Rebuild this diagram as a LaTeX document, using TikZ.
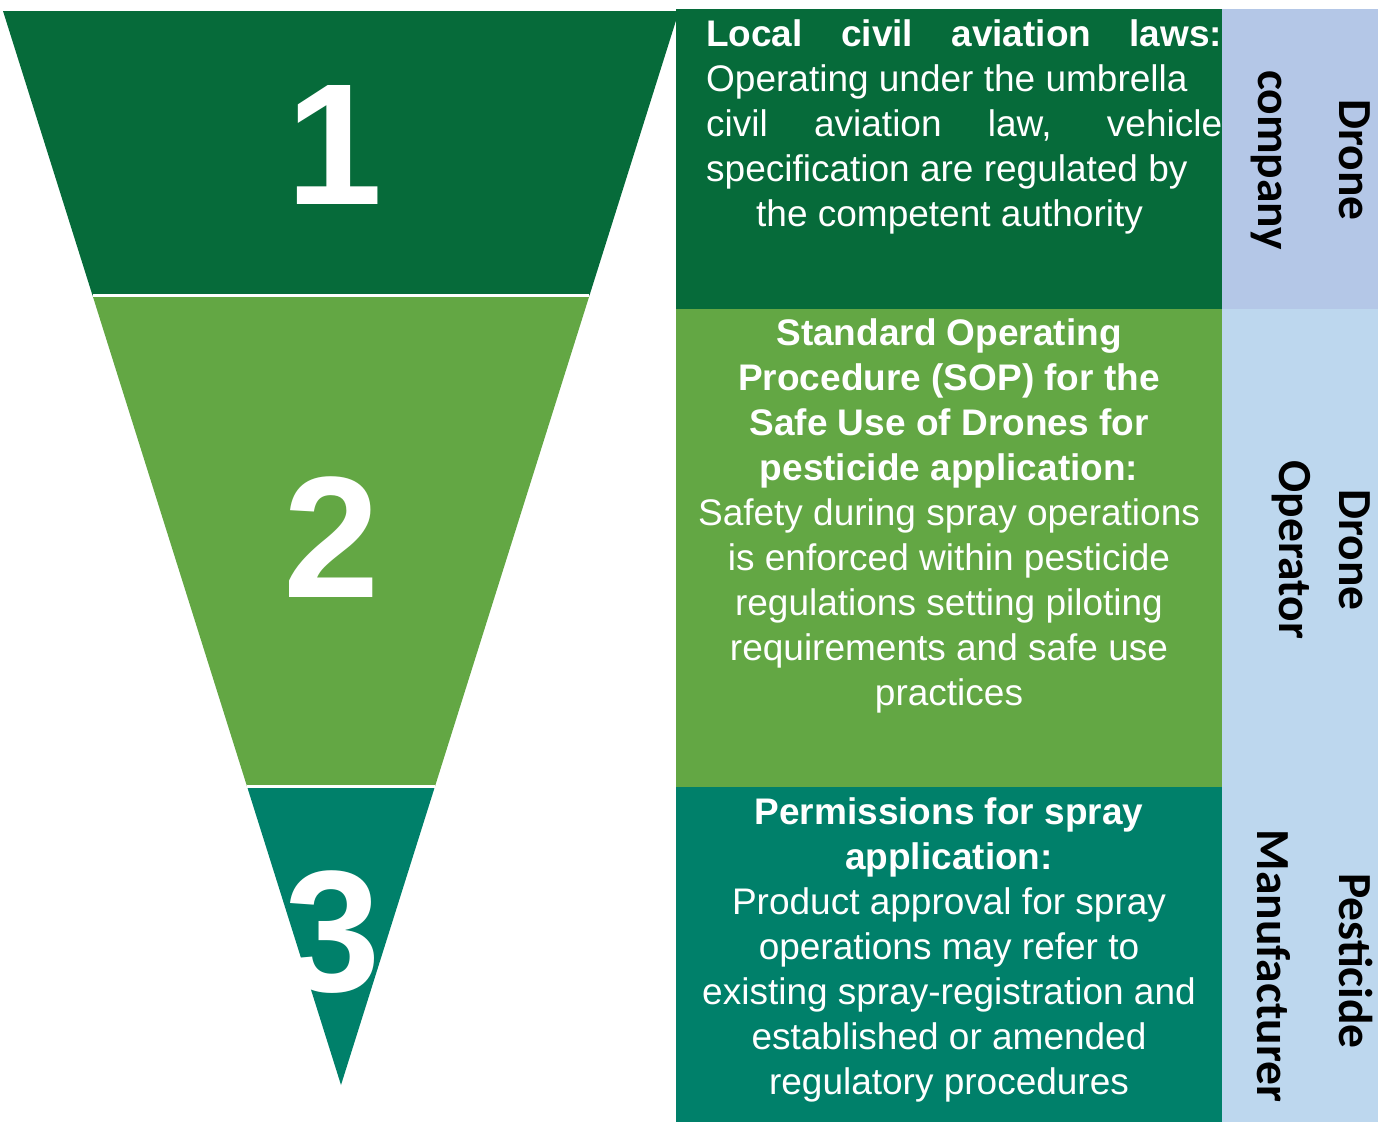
\documentclass[tikz,border=0pt]{standalone}
\usepackage{fontspec}
\setmainfont{Liberation Sans}
\newfontfamily\labelfont{Carlito}
\usetikzlibrary{calc}
\definecolor{tierone}{HTML}{066B3A}
\definecolor{tiertwo}{HTML}{63A744}
\definecolor{tierthree}{HTML}{00806A}
\definecolor{roleone}{HTML}{B4C7E7}
\definecolor{roletwo}{HTML}{BDD7EE}
\tikzset{
  bignum/.style={text=white, inner sep=0pt, font=\fontsize{173}{173}\selectfont\bfseries},
  bodytext/.style={text=white, inner sep=0pt, align=center, font=\fontsize{37}{45.1}\selectfont},
  roletext/.style={text=black, inner sep=0pt, anchor=base, rotate=-90, font=\fontsize{47.5}{58}\selectfont\labelfont\bfseries},
  separator/.style={white, line width=3pt}
}
\begin{document}
\begin{tikzpicture}[x=1pt,y=-1pt]
\useasboundingbox (0,0) rectangle (1386,1122);

% funnel outline
\coordinate (tl) at (3,11);
\coordinate (tr) at (679,11);
\coordinate (tip) at (341,1085);
\coordinate (l1) at ($(tl)!0.2649!(tip)$);
\coordinate (r1) at ($(tr)!0.2649!(tip)$);
\coordinate (l2) at ($(tl)!0.7221!(tip)$);
\coordinate (r2) at ($(tr)!0.7221!(tip)$);

\fill[tierone] (tl) -- (tr) -- (r1) -- (l1) -- cycle;
\fill[tiertwo] (l1) -- (r1) -- (r2) -- (l2) -- cycle;
\fill[tierthree] (l2) -- (r2) -- (tip) -- cycle;
\draw[separator] (l1) -- (r1);
\draw[separator] (l2) -- (r2);

\node[bignum] (n1) at (335,145) {1};
\node[bignum] (n2) at (332,537) {2};
\node[bignum] (n3) at (333,932) {3};

% description panels
\fill[tierone] (676,9) rectangle (1222,309);
\fill[tiertwo] (676,309) rectangle (1222,787);
\fill[tierthree] (676,787) rectangle (1222,1122);

% role column
\fill[roleone] (1222,9) rectangle (1378,309);
\fill[roletwo] (1222,309) rectangle (1378,1122);

\node[bodytext, align=left, anchor=north west] (d1) at (706,19) {%
\makebox[516pt][s]{\bfseries Local civil aviation laws:}\\
Operating under the umbrella\\
\makebox[516pt][s]{civil aviation law, vehicle}\\
specification are regulated by\\
\hspace*{50pt}the competent authority};

\node[bodytext, anchor=north] (d2) at (949,318) {%
\textbf{Standard Operating}\\
\textbf{Procedure (SOP) for the}\\
\textbf{Safe Use of Drones for}\\
\textbf{pesticide application:}\\
Safety during spray operations\\
is enforced within pesticide\\
regulations setting piloting\\
requirements and safe use\\
practices};

\node[bodytext, anchor=north] (d3) at (949,797) {%
\textbf{Permissions for spray}\\
\textbf{application:}\\
Product approval for spray\\
operations may refer to\\
existing spray-registration and\\
established or amended\\
regulatory procedures};

% role names, one node per line, placed on their baselines
\node[roletext] (r1a) at (1339,160) {Drone};
\node[roletext] (r1b) at (1258,160) {company};
\node[roletext] (r2a) at (1339,550) {Drone};
\node[roletext] (r2b) at (1279,550) {Operator};
\node[roletext] (r3a) at (1339,961) {Pesticide};
\node[roletext] (r3b) at (1257,966) {Manufacturer};
\end{tikzpicture}
\end{document}
